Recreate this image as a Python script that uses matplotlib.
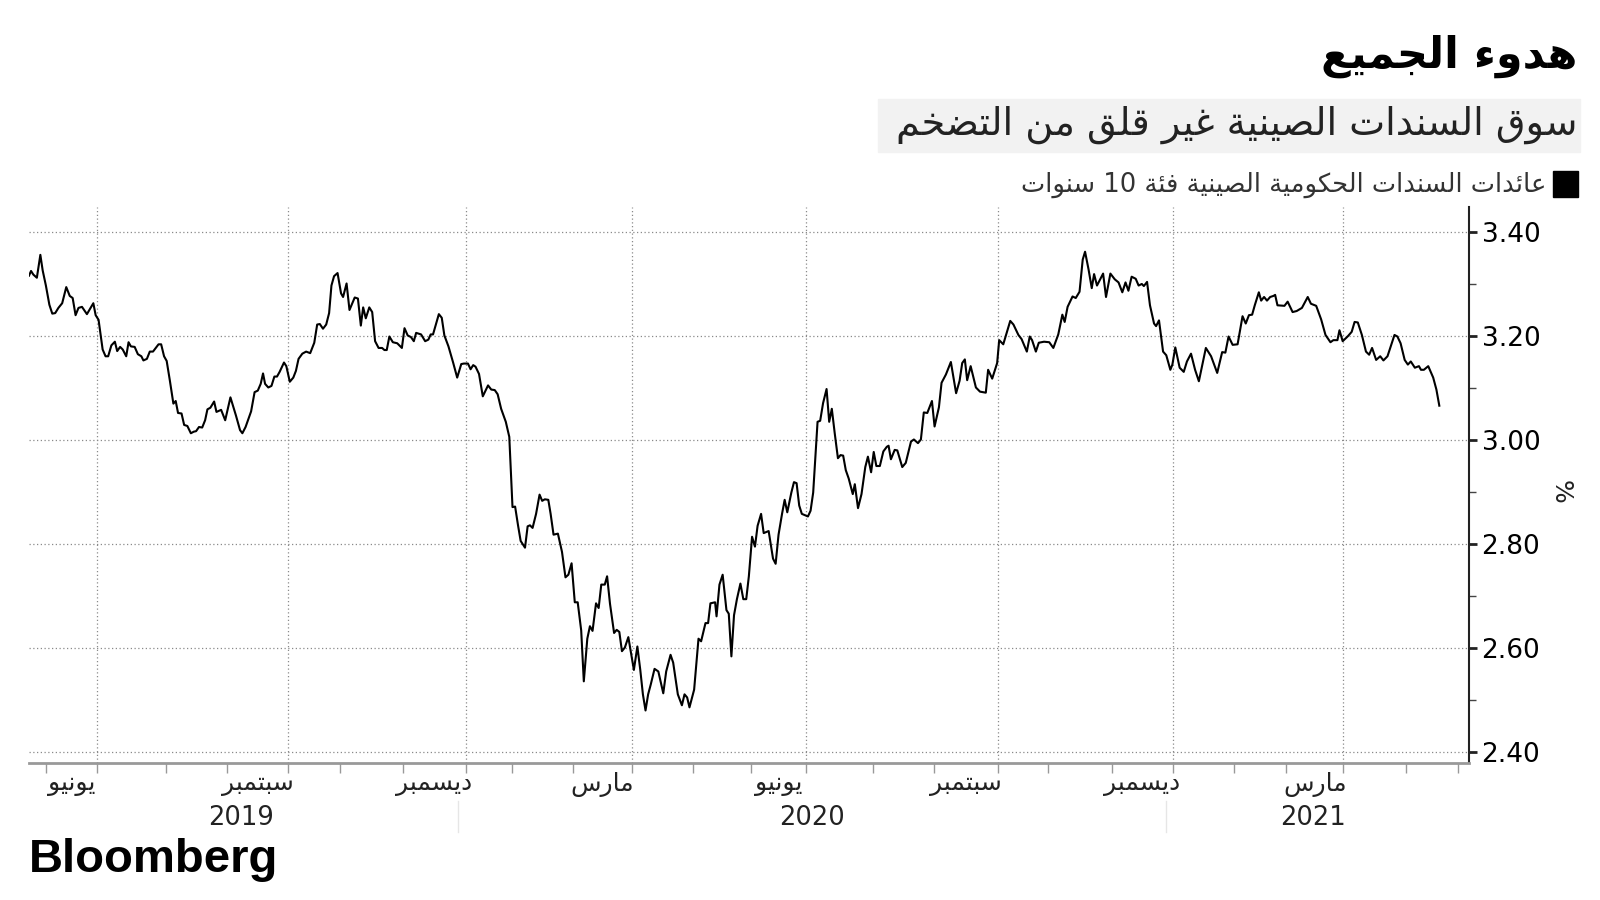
import re
import matplotlib
matplotlib.use('Agg')
import matplotlib.pyplot as plt
from matplotlib.patches import Rectangle

plt.rcParams['font.family'] = ['DejaVu Sans']

# China 10Y government bond yield (%), x = trading-day index starting late May 2019
day = [0.0, 0.7, 1.5, 2.7, 3.9, 4.7, 5.8, 7.0, 8.0, 9.0, 10.1, 11.4, 12.8, 14.0, 15.0, 16.0, 17.0, 18.2,
       19.9, 22.1, 22.9, 23.9, 25.3, 26.3, 27.2, 28.3, 29.5, 30.3, 31.3, 32.2, 33.4, 34.2, 35.0, 36.3,
       37.4, 38.6, 39.3, 40.5, 41.5, 42.6, 44.5, 45.4, 46.4, 47.3, 48.4, 49.6, 50.4, 51.2, 52.4, 53.3,
       54.4, 55.6, 56.6, 57.4, 58.4, 59.5, 60.5, 61.3, 62.3, 63.6, 64.4, 66.0, 67.4, 69.2, 71.1, 72.5,
       73.3, 74.4, 76.3, 77.5, 78.6, 79.6, 80.4, 81.1, 82.2, 83.3, 84.3, 85.2, 86.1, 87.6, 88.4, 89.6,
       90.8, 91.7, 92.6, 93.9, 95.2, 96.6, 98.0, 99.0, 99.9, 101.0, 102.1, 103.1, 103.9, 104.8, 106.0,
       107.2, 107.9, 109.1, 110.1, 111.9, 113.0, 114.0, 114.8, 115.7, 116.9, 117.9, 118.9, 120.1, 121.3,
       122.1, 122.9, 123.8, 125.0, 126.5, 128.1, 129.0, 130.1, 131.2, 132.2, 133.0, 134.7, 136.1, 137.2,
       138.0, 138.8, 140.8, 141.8, 142.7, 144.1, 145.7, 147.1, 148.5, 149.4, 150.8, 151.7, 152.6, 153.4,
       154.6, 155.9, 157.7, 158.8, 160.0, 161.0, 162.2, 163.8, 165.0,
       166.1, 167.0, 168.0, 168.9, 170.4, 171.3, 172.1, 173.0, 174.2, 175.4, 176.3, 177.2, 178.4, 179.2,
       180.2, 181.7, 183.1, 184.3, 185.3, 186.4, 187.5, 188.5, 189.7, 190.6, 191.8, 192.7, 193.6, 194.8,
       195.7, 196.6, 197.8, 198.6, 199.6, 201.0, 201.9, 202.8, 203.7, 204.7, 205.9, 207.0, 207.8, 209.0,
       210.0, 210.9, 211.8, 212.7, 213.6, 214.9, 216.2, 217.9, 218.9, 220.4, 221.3, 222.9, 224.3, 225.2,
       226.1, 226.9, 228.5, 230.0, 230.9, 232.4, 233.3, 234.1, 235.7, 236.2, 237.2, 238.3, 239.6, 240.4,
       241.3, 242.2, 243.2, 244.4, 245.4, 246.4, 247.3, 248.4, 249.4, 250.3, 251.5, 252.4, 254.1, 255.6,
       256.5, 257.5, 258.7, 259.6, 260.5, 261.9, 262.8, 263.7, 264.6, 265.5, 267.6, 268.5, 269.4, 270.9,
       271.8, 272.8, 274.0, 274.9, 275.8, 276.8, 277.9, 278.8, 279.7, 280.6, 281.6, 283.0, 283.7, 284.8,
       286.0, 287.3, 288.2, 289.3, 290.2, 291.1, 292.3, 293.5, 294.7, 295.3, 296.1, 297.4, 298.3, 300.0,
       301.2, 303.0, 304.0, 305.4, 306.4, 307.4, 308.6, 310.2, 311.1, 312.6, 313.5, 315.0, 316.7, 318.5,
       319.7, 320.6, 321.5, 322.3, 323.5, 325.3, 326.7, 328.7, 329.5, 330.9, 332.6, 333.3, 334.7, 337.1,
       338.2, 339.9, 341.0, 342.8, 343.8, 344.6, 345.9, 346.9, 348.7, 350.5, 351.9, 353.6, 355.0, 355.8,
       356.8, 358.5, 359.6, 360.9, 362.0, 362.8, 364.0, 365.1, 365.9, 366.9, 369.0, 370.0, 371.5, 373.0,
       374.3, 375.6, 376.7, 377.7, 378.8, 380.2, 381.2, 382.3, 383.0, 384.1, 385.1, 386.5, 387.2, 388.2,
       389.6, 390.7, 392.1, 392.8, 393.8, 395.3, 396.7, 397.8, 399.2, 400.6, 401.9, 404.3, 406.1, 408.2,
       409.9, 411.0, 412.1, 413.5, 415.2, 416.9, 418.0, 419.1, 420.2, 421.1, 422.5, 423.3, 424.3, 425.3,
       426.4, 427.5, 428.1, 428.9, 431.3, 432.4, 434.1, 435.5, 437.3, 439.3, 440.4, 442.2, 443.9, 445.4,
       447.1, 448.1, 449.5, 450.2, 451.3, 453.0, 454.4, 455.4, 456.5, 457.9, 459.3, 460.4, 461.4, 462.8,
       464.2, 465.3, 466.7, 467.7, 469.1, 470.1, 471.2, 472.6, 473.7, 474.7, 476.1, 477.5, 478.2, 479.2,
       480.7, 482.4, 483.5, 484.5]
yld = [3.316, 3.325, 3.318, 3.312, 3.356, 3.326, 3.297, 3.260, 3.243, 3.244, 3.254, 3.263, 3.294, 3.277,
       3.273, 3.240, 3.254, 3.256, 3.242, 3.263, 3.240, 3.231, 3.174, 3.161, 3.161, 3.182, 3.189, 3.171,
       3.179, 3.174, 3.161, 3.188, 3.180, 3.179, 3.165, 3.161, 3.153, 3.156, 3.170, 3.170, 3.184, 3.184,
       3.161, 3.152, 3.114, 3.070, 3.075, 3.052, 3.051, 3.029, 3.027, 3.013, 3.016, 3.017, 3.025, 3.024,
       3.038, 3.059, 3.062, 3.074, 3.054, 3.058, 3.038, 3.082, 3.047, 3.019, 3.013, 3.025, 3.055, 3.092,
       3.095, 3.108, 3.128, 3.108, 3.101, 3.104, 3.122, 3.122, 3.131, 3.149, 3.142, 3.112, 3.120, 3.133,
       3.156, 3.166, 3.170, 3.167, 3.187, 3.222, 3.223, 3.214, 3.222, 3.244, 3.297, 3.315, 3.321, 3.282,
       3.275, 3.301, 3.250, 3.274, 3.272, 3.220, 3.255, 3.234, 3.255, 3.246, 3.190, 3.177, 3.177, 3.173,
       3.173, 3.199, 3.188, 3.186, 3.177, 3.215, 3.201, 3.198, 3.190, 3.206, 3.203, 3.190, 3.193, 3.203,
       3.203, 3.242, 3.235, 3.201, 3.180, 3.149, 3.120, 3.146, 3.147, 3.147, 3.136, 3.144, 3.141, 3.127,
       3.084, 3.105, 3.097, 3.096, 3.088, 3.060, 3.035, 3.006,
       2.871, 2.872, 2.836, 2.806, 2.793, 2.834, 2.836, 2.831, 2.858, 2.895, 2.883, 2.886, 2.885, 2.858,
       2.818, 2.820, 2.785, 2.736, 2.741, 2.763, 2.688, 2.688, 2.634, 2.536, 2.618, 2.642, 2.633, 2.686,
       2.677, 2.722, 2.722, 2.738, 2.685, 2.629, 2.635, 2.631, 2.594, 2.601, 2.621, 2.584, 2.558, 2.603,
       2.558, 2.511, 2.480, 2.511, 2.530, 2.560, 2.555, 2.513, 2.555, 2.587, 2.572, 2.511, 2.490, 2.511,
       2.505, 2.486, 2.520, 2.618, 2.613, 2.648, 2.648, 2.686, 2.688, 2.661, 2.722, 2.741, 2.673, 2.666,
       2.584, 2.663, 2.694, 2.724, 2.694, 2.694, 2.738, 2.814, 2.795, 2.835, 2.858, 2.821, 2.825, 2.772,
       2.762, 2.818, 2.858, 2.885, 2.861, 2.899, 2.919, 2.917, 2.874, 2.858, 2.853, 2.864, 2.899, 3.035,
       3.037, 3.071, 3.098, 3.035, 3.060, 3.013, 2.965, 2.971, 2.970, 2.942, 2.926, 2.896, 2.915, 2.869,
       2.896, 2.948, 2.968, 2.938, 2.977, 2.950, 2.950, 2.978, 2.987, 2.989, 2.963, 2.981, 2.980, 2.948,
       2.956, 2.997, 3.001, 2.994, 3.001, 3.053, 3.052, 3.075, 3.026, 3.063, 3.110, 3.126, 3.150, 3.090,
       3.114, 3.148, 3.155, 3.115, 3.142, 3.101, 3.093, 3.091, 3.135, 3.118, 3.148, 3.192, 3.184, 3.229,
       3.222, 3.202, 3.194, 3.170, 3.199, 3.192, 3.170, 3.187, 3.189, 3.188, 3.177, 3.203, 3.241, 3.227,
       3.256, 3.276, 3.273, 3.285, 3.347, 3.362, 3.328, 3.292, 3.319, 3.297, 3.320, 3.275, 3.320, 3.309,
       3.303, 3.284, 3.303, 3.287, 3.314, 3.310, 3.297, 3.300, 3.296, 3.304, 3.259, 3.224, 3.219, 3.230,
       3.170, 3.163, 3.135, 3.145, 3.178, 3.139, 3.131, 3.151, 3.166, 3.135, 3.113, 3.177, 3.161, 3.129,
       3.169, 3.168, 3.199, 3.183, 3.184, 3.238, 3.224, 3.240, 3.241, 3.259, 3.284, 3.268, 3.275, 3.268,
       3.275, 3.277, 3.279, 3.259, 3.258, 3.266, 3.246, 3.248, 3.254, 3.275, 3.262, 3.258, 3.232, 3.202,
       3.188, 3.192, 3.192, 3.211, 3.190, 3.199, 3.208, 3.227, 3.226, 3.202, 3.170, 3.164, 3.177, 3.154,
       3.161, 3.153, 3.161, 3.178, 3.202, 3.199, 3.186, 3.154, 3.145, 3.151, 3.139, 3.142, 3.135, 3.135,
       3.142, 3.120, 3.097, 3.066]

# month boundaries (trading-day index), Jun 2019 .. Jun 2021
month_starts = [6, 23.4, 47, 68, 89, 107, 128.5, 150, 166, 187, 207, 228, 248, 267, 290, 311,
                333, 350, 372, 393, 414, 432, 451.5, 473, 491]
quarter_ends = [23.4, 89, 150, 207, 267, 333, 393, 451.5]
quarter_months = ['يونيو', 'سبتمبر', 'ديسمبر', 'مارس', 'يونيو', 'سبتمبر', 'ديسمبر', 'مارس']
years = ['2019', '2020', '2021']
year_pos = [73, 269, 441]
year_breaks = [147.5, 390.5]
yticks = [2.40, 2.60, 2.80, 3.00, 3.20, 3.40]

title = 'هدوء الجميع'
subtitle = 'سوق السندات الصينية غير قلق من التضخم'
legend_txt = 'عائدات السندات الحكومية الصينية فئة 10 سنوات'

# minimal arabic shaping (presentation forms) + visual ordering
DUAL = {'ئ': 0xFE89, 'ب': 0xFE8F, 'ت': 0xFE95, 'ث': 0xFE99, 'ج': 0xFE9D, 'ح': 0xFEA1, 'خ': 0xFEA5,
        'س': 0xFEB1, 'ش': 0xFEB5, 'ص': 0xFEB9, 'ض': 0xFEBD, 'ط': 0xFEC1, 'ظ': 0xFEC5, 'ع': 0xFEC9,
        'غ': 0xFECD, 'ف': 0xFED1, 'ق': 0xFED5, 'ك': 0xFED9, 'ل': 0xFEDD, 'م': 0xFEE1, 'ن': 0xFEE5,
        'ه': 0xFEE9, 'ي': 0xFEF1}
RIGHT = {'آ': 0xFE81, 'أ': 0xFE83, 'ؤ': 0xFE85, 'إ': 0xFE87, 'ا': 0xFE8D, 'ة': 0xFE93, 'د': 0xFEA9,
         'ذ': 0xFEAB, 'ر': 0xFEAD, 'ز': 0xFEAF, 'و': 0xFEED, 'ى': 0xFEEF}
NONJ = {'ء': 0xFE80}


def shape(s):
    out = []
    for i, c in enumerate(s):
        prev = s[i - 1] if i > 0 else ''
        nxt = s[i + 1] if i < len(s) - 1 else ''
        if c in DUAL or c in RIGHT:
            base = DUAL.get(c, RIGHT.get(c))
            jp = prev in DUAL
            jn = c in DUAL and (nxt in DUAL or nxt in RIGHT)
            if jp and jn:
                out.append(chr(base + 3))
            elif jp:
                out.append(chr(base + 1))
            elif jn:
                out.append(chr(base + 2))
            else:
                out.append(chr(base))
        elif c in NONJ:
            out.append(chr(NONJ[c]))
        else:
            out.append(c)
    return ''.join(out)


def ar(s):
    runs = re.findall(r'[0-9.]+|[^0-9.]+', shape(s))
    return ''.join(r if r[0].isdigit() else r[::-1] for r in reversed(runs))


W, H = 1600, 900
fig = plt.figure(figsize=(16, 9), dpi=100)
ax = fig.add_axes([29 / W, 1 - 763 / H, 1440 / W, 556 / H])

ax.plot(day, yld, color='black', lw=1.5, zorder=3)

ax.set_xlim(0, 494.7)
ax.set_ylim(2.379, 3.448)

dot = (0, (1, 2))
for q in quarter_ends:
    ax.axvline(q, color='#8a8a8a', lw=0.9, ls=dot, zorder=1)
ax.set_yticks(yticks)
ax.set_yticks([2.5, 2.7, 2.9, 3.1, 3.3], minor=True)
ax.yaxis.grid(True, which='major', color='#8a8a8a', lw=0.9, ls=dot)
ax.yaxis.tick_right()
ax.set_yticklabels(['%.2f' % v for v in yticks], fontsize=19)
ax.tick_params(axis='y', which='major', length=6, width=2, pad=3, color='#222')
ax.tick_params(axis='y', which='minor', length=5, width=1, color='#444')

ax.set_xticks(month_starts)
ax.set_xticklabels([])
ax.tick_params(axis='x', length=7, width=1, color='#999')

for s in ['left', 'top']:
    ax.spines[s].set_visible(False)
ax.spines['right'].set_color('#222')
ax.spines['right'].set_linewidth(1.5)
ax.spines['bottom'].set_color('#999')
ax.spines['bottom'].set_linewidth(2)

xt = ax.get_xaxis_transform()
for i, lab in enumerate(quarter_months):
    k = month_starts.index(quarter_ends[i])
    mid = (month_starts[k - 1] + month_starts[k]) / 2
    ax.text(mid, -0.038, ar(lab), transform=xt, ha='center', va='center', fontsize=18, color='#222')
for yr, p in zip(years, year_pos):
    ax.text(p, -0.099, yr, transform=xt, ha='center', va='center', fontsize=18.5, color='#222')
for b in year_breaks:
    ax.plot([b, b], [-0.068, -0.124], transform=xt, color='#e6e6e6', lw=1, clip_on=False)

fig.text(1561 / W, 1 - 492 / H, '%', rotation=270, ha='center', va='center', fontsize=18, color='#222')

# header
fig.text(1577 / W, 1 - 56 / H, ar(title), ha='right', va='center', fontsize=31, fontweight='bold',
         color='black')
fig.patches.append(Rectangle((878 / W, 1 - 152 / H), 702 / W, 53 / H, transform=fig.transFigure,
                             color='#f2f2f2', zorder=0))
fig.text(1577 / W, 1 - 125 / H, ar(subtitle), ha='right', va='center', fontsize=27.5, color='#222')
fig.patches.append(Rectangle((1553 / W, 1 - 197 / H), 25 / W, 26 / H, transform=fig.transFigure,
                             color='black'))
fig.text(1546 / W, 1 - 185 / H, ar(legend_txt), ha='right', va='center', fontsize=18.5, color='#333')

fig.text(29 / W, 1 - 872 / H, 'Bloomberg', ha='left', va='baseline', fontsize=34, fontweight='bold',
         family='Liberation Sans', color='black')

fig.savefig('out.png', dpi=100)
